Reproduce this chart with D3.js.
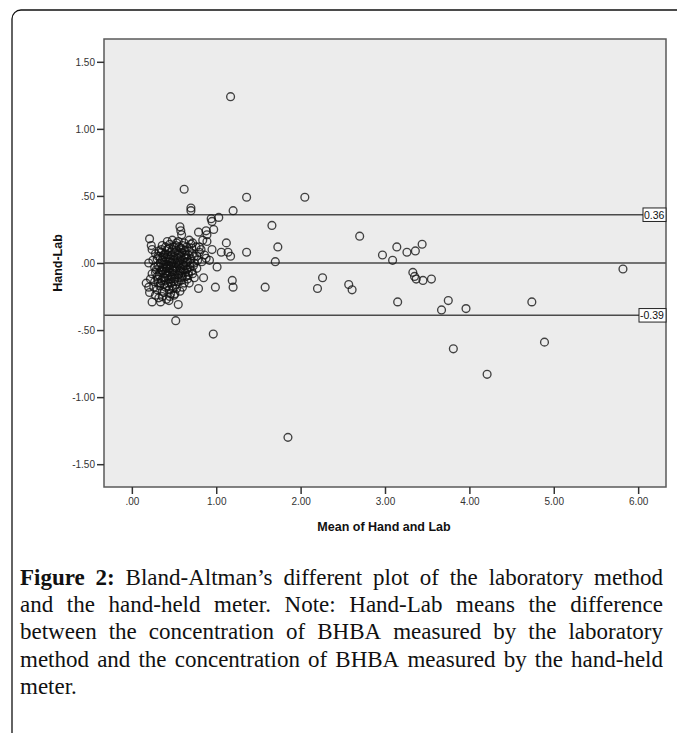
<!DOCTYPE html>
<html>
<head>
<meta charset="utf-8">
<script src="https://cdn.jsdelivr.net/npm/d3@7"></script>
<style>
  html, body { margin: 0; padding: 0; background: #ffffff; }
  svg { display: block; }
</style>
</head>
<body>
<svg id="chart" width="677" height="733"></svg>
<script>
// ---------------- DATA ----------------
const xTickValues = [0, 1, 2, 3, 4, 5, 6];
const xTickLabels = [".00", "1.00", "2.00", "3.00", "4.00", "5.00", "6.00"];
const yTickValues = [-1.5, -1.0, -0.5, 0, 0.5, 1.0, 1.5];
const yTickLabels = ["-1.50", "-1.00", "-.50", ".00", ".50", "1.00", "1.50"];
const meanDiff = 0;
const upperLimit = 0.36;
const lowerLimit = -0.39;
const upperLabel = "0.36";
const lowerLabel = "-0.39";
const xTitle = "Mean of Hand and Lab";
const yTitle = "Hand-Lab";

// mean of hand and lab (x), hand-lab difference (y)
const sparsePoints = [
  [1.17, 1.24], [0.62, 0.55], [1.36, 0.49], [2.05, 0.49], [0.70, 0.41], [0.70, 0.39],
  [1.20, 0.39], [1.03, 0.34], [0.94, 0.33], [0.95, 0.31], [0.97, 0.25], [0.88, 0.24],
  [0.79, 0.23], [0.89, 0.21], [0.89, 0.16], [1.66, 0.28], [2.70, 0.20], [1.12, 0.15],
  [1.73, 0.12], [1.06, 0.08], [1.14, 0.08], [1.17, 0.05], [1.36, 0.08], [0.95, 0.10],
  [1.70, 0.01], [1.01, -0.03], [1.19, -0.13], [1.20, -0.18], [0.99, -0.18], [1.58, -0.18],
  [0.85, -0.11], [0.79, -0.19], [2.26, -0.11], [2.20, -0.19], [2.57, -0.16], [2.61, -0.20],
  [2.97, 0.06], [3.09, 0.02], [3.14, 0.12], [3.26, 0.08], [3.36, 0.09], [3.44, 0.14],
  [3.33, -0.07], [3.35, -0.10], [3.37, -0.12], [3.45, -0.13], [3.55, -0.12], [3.15, -0.29],
  [3.75, -0.28], [3.67, -0.35], [3.96, -0.34], [3.81, -0.64], [4.21, -0.83], [4.74, -0.29],
  [4.89, -0.59], [5.82, -0.045], [1.85, -1.30], [0.965, -0.53], [0.52, -0.43], [0.55, -0.31],
  [0.57, 0.27], [0.58, 0.24], [0.59, 0.21], [0.21, 0.18], [0.23, 0.13], [0.24, 0.10],
  [0.20, 0.00], [0.17, -0.15], [0.20, -0.18], [0.21, -0.22], [0.24, -0.29], [0.34, -0.29],
  [0.44, -0.28], [0.51, -0.23], [0.60, -0.18], [0.68, -0.15], [0.74, -0.11], [0.42, 0.16],
  [0.35, 0.10], [0.88, 0.035], [0.80, 0.12], [0.84, 0.17], [0.68, 0.17], [0.72, 0.15],
  [0.53, 0.15], [0.62, 0.15]
];

const clusterPoints = [
  [0.36, 0.13], [0.45, 0.14], [0.50, 0.12], [0.55, 0.16], [0.60, 0.13], [0.65, 0.12],
  [0.48, 0.17], [0.70, 0.14], [0.76, 0.12], [0.82, 0.10],
  [0.28, 0.07], [0.32, 0.09], [0.38, 0.06], [0.42, 0.10], [0.46, 0.08], [0.50, 0.05],
  [0.53, 0.09], [0.57, 0.07], [0.61, 0.10], [0.64, 0.06], [0.68, 0.09], [0.72, 0.07],
  [0.77, 0.05], [0.80, 0.08], [0.86, 0.06], [0.44, 0.04], [0.58, 0.11],
  [0.25, 0.02], [0.30, 0.03], [0.34, 0.00], [0.37, 0.04], [0.40, 0.01], [0.43, 0.03],
  [0.47, 0.00], [0.50, 0.02], [0.54, 0.04], [0.56, 0.00], [0.60, 0.02], [0.63, 0.04],
  [0.66, 0.01], [0.70, 0.03], [0.74, 0.00], [0.78, 0.02], [0.83, 0.01], [0.92, 0.02],
  [0.27, -0.03], [0.31, -0.02], [0.35, -0.05], [0.38, -0.01], [0.41, -0.04], [0.44, -0.02],
  [0.48, -0.05], [0.51, -0.03], [0.55, -0.01], [0.58, -0.04], [0.62, -0.02], [0.65, -0.05],
  [0.69, -0.03], [0.73, -0.02], [0.77, -0.04], [0.33, -0.03],
  [0.24, -0.08], [0.28, -0.07], [0.32, -0.09], [0.36, -0.06], [0.39, -0.08], [0.42, -0.10],
  [0.45, -0.07], [0.49, -0.09], [0.52, -0.06], [0.56, -0.08], [0.60, -0.10], [0.63, -0.07],
  [0.67, -0.09], [0.72, -0.08], [0.30, -0.10],
  [0.22, -0.12], [0.27, -0.14], [0.31, -0.12], [0.34, -0.15], [0.37, -0.11], [0.40, -0.13],
  [0.43, -0.15], [0.47, -0.12], [0.50, -0.14], [0.54, -0.11], [0.58, -0.13], [0.62, -0.15],
  [0.66, -0.12],
  [0.26, -0.18], [0.30, -0.20], [0.33, -0.17], [0.36, -0.21], [0.40, -0.18], [0.44, -0.20],
  [0.48, -0.17], [0.53, -0.19], [0.57, -0.21], [0.38, -0.22], [0.46, -0.23],
  [0.28, -0.24], [0.32, -0.26], [0.36, -0.25], [0.41, -0.27], [0.45, -0.25], [0.50, -0.24]
];

// densest core of the cloud
const corePoints = [
  [0.33, 0.05], [0.36, 0.02], [0.39, 0.07], [0.41, -0.01], [0.43, 0.06], [0.45, 0.01],
  [0.47, 0.06], [0.49, -0.02], [0.51, 0.08], [0.52, 0.00], [0.55, 0.06], [0.57, 0.02],
  [0.59, 0.08], [0.61, -0.01], [0.63, 0.09], [0.65, 0.03], [0.67, 0.06], [0.69, 0.00],
  [0.34, -0.07], [0.37, -0.03], [0.39, -0.11], [0.41, -0.06], [0.43, -0.09], [0.45, -0.04],
  [0.47, -0.10], [0.49, -0.06], [0.51, -0.12], [0.53, -0.04], [0.55, -0.09], [0.57, -0.06],
  [0.59, -0.11], [0.61, -0.05], [0.64, -0.10], [0.66, -0.04], [0.35, -0.13], [0.38, -0.16],
  [0.42, -0.17], [0.46, -0.15], [0.49, -0.19], [0.52, -0.16], [0.55, -0.14], [0.31, -0.15],
  [0.29, -0.05], [0.31, 0.05], [0.35, 0.08], [0.40, 0.12], [0.44, 0.11], [0.48, 0.10],
  [0.52, 0.13], [0.56, 0.12], [0.62, 0.06], [0.71, 0.11], [0.74, 0.05], [0.71, -0.06],
  [0.40, 0.04], [0.46, 0.03], [0.54, 0.01], [0.58, 0.05], [0.42, -0.03], [0.50, -0.08],
  [0.56, -0.02], [0.38, -0.04], [0.44, -0.12], [0.60, -0.07], [0.64, 0.00], [0.67, -0.07]
];

const captionLines = [
  [{t: "Figure", b: true}, {t: "2:", b: true}, "Bland-Altman’s", "different", "plot", "of", "the", "laboratory", "method"],
  ["and", "the", "hand-held", "meter.", "Note:", "Hand-Lab", "means", "the", "difference"],
  ["between", "the", "concentration", "of", "BHBA", "measured", "by", "the", "laboratory"],
  ["method", "and", "the", "concentration", "of", "BHBA", "measured", "by", "the", "hand-held"],
  ["meter."]
];

// ---------------- LAYOUT ----------------
const plot = {left: 104, right: 666, top: 39, bottom: 487};
const svg = d3.select("#chart");

// outer frame (rounded corner at top-left, continues off page)
svg.append("rect")
  .attr("x", 12).attr("y", 10)
  .attr("width", 720).attr("height", 780)
  .attr("rx", 9)
  .attr("fill", "none").attr("stroke", "#111").attr("stroke-width", 1.3);

const x = d3.scaleLinear().domain([-0.33, 6.33]).range([plot.left, plot.right]);
const y = d3.scaleLinear().domain([-1.67, 1.67]).range([plot.bottom, plot.top]);

// plot background
svg.append("rect")
  .attr("x", plot.left).attr("y", plot.top)
  .attr("width", plot.right - plot.left).attr("height", plot.bottom - plot.top)
  .attr("fill", "#ececec");

const clipId = "plotclip";
svg.append("clipPath").attr("id", clipId)
  .append("rect")
  .attr("x", plot.left).attr("y", plot.top)
  .attr("width", plot.right - plot.left).attr("height", plot.bottom - plot.top);

// reference lines
const refG = svg.append("g").attr("clip-path", `url(#${clipId})`);
[meanDiff, upperLimit, lowerLimit].forEach(v => {
  refG.append("line")
    .attr("x1", plot.left).attr("x2", plot.right)
    .attr("y1", y(v)).attr("y2", y(v))
    .attr("stroke", "#4a4a4a").attr("stroke-width", 1.4);
});

// points
const allPoints = sparsePoints.concat(clusterPoints, corePoints);
svg.append("g").attr("clip-path", `url(#${clipId})`)
  .selectAll("circle").data(allPoints).join("circle")
  .attr("cx", d => x(d[0])).attr("cy", d => y(d[1]))
  .attr("r", 3.9)
  .attr("fill", "none")
  .attr("stroke", "#111").attr("stroke-opacity", 0.78)
  .attr("stroke-width", 1.35);

// plot border
svg.append("rect")
  .attr("x", plot.left).attr("y", plot.top)
  .attr("width", plot.right - plot.left).attr("height", plot.bottom - plot.top)
  .attr("fill", "none").attr("stroke", "#5a5a5a").attr("stroke-width", 1.5);

// axes
const yAxis = d3.axisLeft(y)
  .tickValues(yTickValues)
  .tickFormat((d, i) => yTickLabels[i])
  .tickSize(7).tickSizeOuter(0).tickPadding(2);
const yG = svg.append("g").attr("transform", `translate(${plot.left},0)`).call(yAxis);

const xAxis = d3.axisBottom(x)
  .tickValues(xTickValues)
  .tickFormat((d, i) => xTickLabels[i])
  .tickSize(7).tickSizeOuter(0).tickPadding(4);
const xG = svg.append("g").attr("transform", `translate(0,${plot.bottom})`).call(xAxis);

[yG, xG].forEach(g => {
  g.select(".domain").remove();
  g.selectAll(".tick line").attr("stroke", "#333").attr("stroke-width", 1.5);
  g.selectAll(".tick text")
    .attr("fill", "#333")
    .style("font-family", "'Liberation Sans', Arial, sans-serif")
    .style("font-size", "10px");
});

// axis titles
svg.append("text")
  .attr("x", (x(0) + x(6)) / 2 - 1).attr("y", 531)
  .attr("text-anchor", "middle")
  .style("font-family", "'Liberation Sans', Arial, sans-serif")
  .style("font-size", "12.5px").style("font-weight", "bold")
  .attr("fill", "#111")
  .text(xTitle);

svg.append("text")
  .attr("transform", `translate(62,${y(0)}) rotate(-90)`)
  .attr("text-anchor", "middle")
  .style("font-family", "'Liberation Sans', Arial, sans-serif")
  .style("font-size", "12.5px").style("font-weight", "bold")
  .attr("fill", "#111")
  .text(yTitle);

// reference line labels
function refLabel(v, txt, boxLeft) {
  const bx = boxLeft, bw = plot.right - boxLeft, bh = 13.5;
  const by = y(v) - bh / 2;
  const g = svg.append("g");
  g.append("rect")
    .attr("x", bx).attr("y", by).attr("width", bw).attr("height", bh)
    .attr("fill", "#ffffff").attr("stroke", "#222").attr("stroke-width", 1);
  g.append("text")
    .attr("x", bx + 1).attr("y", by + bh - 2.8)
    .style("font-family", "'Liberation Sans', Arial, sans-serif")
    .style("font-size", "10.5px")
    .attr("fill", "#111")
    .text(txt);
}
refLabel(upperLimit, upperLabel, 643);
refLabel(lowerLimit, lowerLabel, 639);

// caption (justified)
const capLeft = 20, capRight = 663, capTop = 585, capStep = 27.2;
const capFont = "'Liberation Serif', 'Times New Roman', serif";
const capSize = 23;
captionLines.forEach((words, li) => {
  const items = words.map(w => typeof w === "string" ? {t: w, b: false} : w);
  const texts = items.map(it => svg.append("text")
    .attr("y", capTop + li * capStep)
    .style("font-family", capFont)
    .style("font-size", capSize + "px")
    .style("font-weight", it.b ? "bold" : "normal")
    .attr("fill", "#111")
    .text(it.t));
  const widths = texts.map(t => t.node().getComputedTextLength());
  const total = d3.sum(widths);
  const last = li === captionLines.length - 1;
  const gap = (!last && items.length > 1) ? (capRight - capLeft - total) / (items.length - 1) : capSize * 0.25;
  let cx = capLeft;
  texts.forEach((t, i) => { t.attr("x", cx); cx += widths[i] + gap; });
});
</script>
</body>
</html>
